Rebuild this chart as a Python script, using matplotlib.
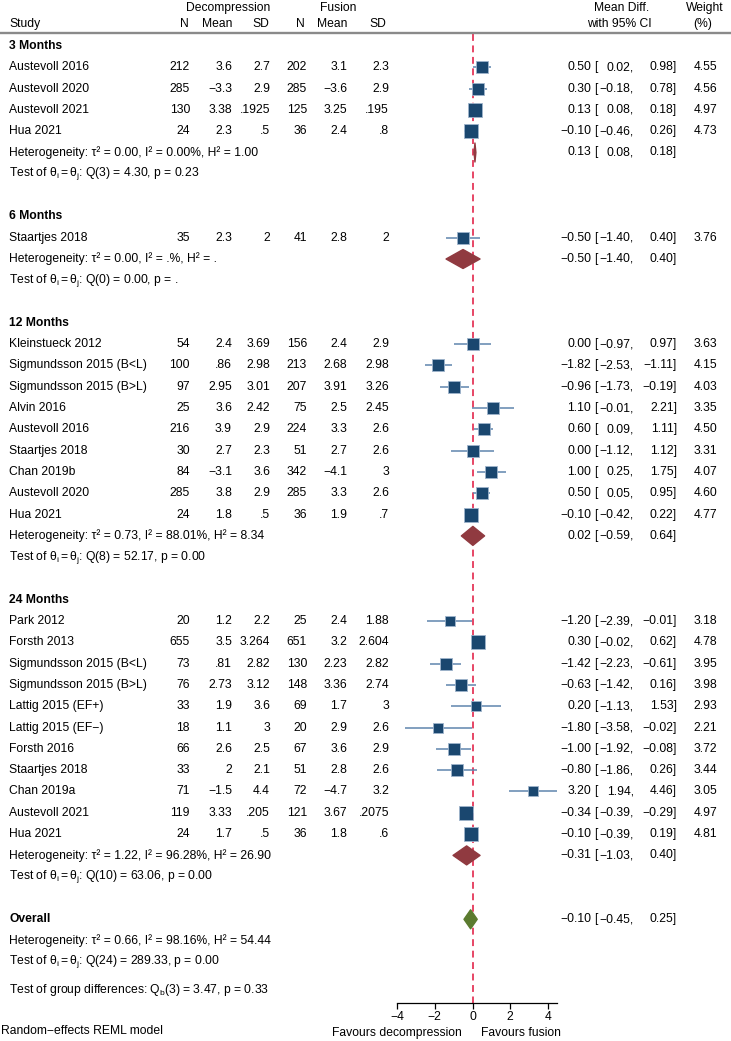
import matplotlib
matplotlib.use("Agg")
import matplotlib.pyplot as plt
from matplotlib.patches import Polygon
from matplotlib.transforms import blended_transform_factory, Affine2D
import numpy as np

plt.rcParams['font.family'] = ['Liberation Sans', 'DejaVu Sans']
plt.rcParams['mathtext.fontset'] = 'custom'
plt.rcParams['mathtext.rm'] = 'Liberation Sans'
plt.rcParams['mathtext.it'] = 'Liberation Sans'
plt.rcParams['mathtext.bf'] = 'Liberation Sans:bold'

M = "\u2212"

# ---------------- data ----------------
groups = ["3 Months", "6 Months", "12 Months", "24 Months"]

studies = [
    ["Austevoll 2016", "Austevoll 2020", "Austevoll 2021", "Hua 2021"],
    ["Staartjes 2018"],
    ["Kleinstueck 2012", "Sigmundsson 2015 (B<L)", "Sigmundsson 2015 (B>L)", "Alvin 2016",
     "Austevoll 2016", "Staartjes 2018", "Chan 2019b", "Austevoll 2020", "Hua 2021"],
    ["Park 2012", "Forsth 2013", "Sigmundsson 2015 (B<L)", "Sigmundsson 2015 (B>L)",
     "Lattig 2015 (EF+)", "Lattig 2015 (EF" + M + ")", "Forsth 2016", "Staartjes 2018",
     "Chan 2019a", "Austevoll 2021", "Hua 2021"],
]

dec_n = [["212", "285", "130", "24"], ["35"],
         ["54", "100", "97", "25", "216", "30", "84", "285", "24"],
         ["20", "655", "73", "76", "33", "18", "66", "33", "71", "119", "24"]]
dec_mean = [["3.6", M + "3.3", "3.38", "2.3"], ["2.3"],
            ["2.4", ".86", "2.95", "3.6", "3.9", "2.7", M + "3.1", "3.8", "1.8"],
            ["1.2", "3.5", ".81", "2.73", "1.9", "1.1", "2.6", "2", M + "1.5", "3.33", "1.7"]]
dec_sd = [["2.7", "2.9", ".1925", ".5"], ["2"],
          ["3.69", "2.98", "3.01", "2.42", "2.9", "2.3", "3.6", "2.9", ".5"],
          ["2.2", "3.264", "2.82", "3.12", "3.6", "3", "2.5", "2.1", "4.4", ".205", ".5"]]
fus_n = [["202", "285", "125", "36"], ["41"],
         ["156", "213", "207", "75", "224", "51", "342", "285", "36"],
         ["25", "651", "130", "148", "69", "20", "67", "51", "72", "121", "36"]]
fus_mean = [["3.1", M + "3.6", "3.25", "2.4"], ["2.8"],
            ["2.4", "2.68", "3.91", "2.5", "3.3", "2.7", M + "4.1", "3.3", "1.9"],
            ["2.4", "3.2", "2.23", "3.36", "1.7", "2.9", "3.6", "2.8", M + "4.7", "3.67", "1.8"]]
fus_sd = [["2.3", "2.9", ".195", ".8"], ["2"],
          ["2.9", "2.98", "3.26", "2.45", "2.6", "2.6", "3", "2.6", ".7"],
          ["1.88", "2.604", "2.82", "2.74", "3", "2.6", "2.9", "2.6", "3.2", ".2075", ".6"]]

md = [[0.50, 0.30, 0.13, -0.10], [-0.50],
      [0.00, -1.82, -0.96, 1.10, 0.60, 0.00, 1.00, 0.50, -0.10],
      [-1.20, 0.30, -1.42, -0.63, 0.20, -1.80, -1.00, -0.80, 3.20, -0.34, -0.10]]
ci_lo = [[0.02, -0.18, 0.08, -0.46], [-1.40],
         [-0.97, -2.53, -1.73, -0.01, 0.09, -1.12, 0.25, 0.05, -0.42],
         [-2.39, -0.02, -2.23, -1.42, -1.13, -3.58, -1.92, -1.86, 1.94, -0.39, -0.39]]
ci_hi = [[0.98, 0.78, 0.18, 0.26], [0.40],
         [0.97, -1.11, -0.19, 2.21, 1.11, 1.12, 1.75, 0.95, 0.22],
         [-0.01, 0.62, -0.61, 0.16, 1.53, -0.02, -0.08, 0.26, 4.46, -0.29, 0.19]]
weights = [[4.55, 4.56, 4.97, 4.73], [3.76],
           [3.63, 4.15, 4.03, 3.35, 4.50, 3.31, 4.07, 4.60, 4.77],
           [3.18, 4.78, 3.95, 3.98, 2.93, 2.21, 3.72, 3.44, 3.05, 4.97, 4.81]]

sub_md = [0.13, -0.50, 0.02, -0.31]
sub_lo = [0.08, -1.40, -0.59, -1.03]
sub_hi = [0.18, 0.40, 0.64, 0.40]
sub_het = [("0.00", "0.00%", "1.00"), ("0.00", ".%", "."),
           ("0.73", "88.01%", "8.34"), ("1.22", "96.28%", "26.90")]
sub_q = [("3", "4.30", "0.23"), ("0", "0.00", "."), ("8", "52.17", "0.00"), ("10", "63.06", "0.00")]

overall_md, overall_lo, overall_hi = -0.10, -0.45, 0.25
overall_het = ("0.66", "98.16%", "54.44")
overall_q = ("24", "289.33", "0.00")
group_diff = ("3", "3.47", "0.33")

xticks = [-4, -2, 0, 2, 4]
axis_max = 4.46

# ---------------- layout ----------------
W, H = 731, 1041
fig = plt.figure(figsize=(W / 100, H / 100), dpi=100)
ax = fig.add_axes([0, 0, 1, 1])
X0, PXU = 472.5, 18.9    # pixel of 0, pixels per unit
Y0, PXR = 46.0, 21.3     # pixel of first row, pixels per row
ax.set_xlim((0 - X0) / PXU, (W - X0) / PXU)
ax.set_ylim((H - Y0) / PXR, (0 - Y0) / PXR)
for s in ["top", "left", "right"]:
    ax.spines[s].set_visible(False)
ax.set_yticks([])


def prow(py):
    return (py - Y0) / PXR


xpx = Affine2D().scale(1 / W, 1) + fig.transFigure
tr = blended_transform_factory(xpx, ax.transData)

FS = 8.7
BLACK = "#000000"
SQ_FACE = "#1a476f"
SQ_EDGE = "#9fb4cc"
CI_COL = "#5f85ad"
RED_D = "#903a40"
GRN_D = "#5b7b2f"
REFCOL = "#e0143c"


def txt(x, r, s, ha="left", **kw):
    ax.text(x, r, s, transform=tr, ha=ha, va="center", fontsize=FS, color=BLACK, **kw)


def fmt(v):
    s = "%.2f" % v
    return s.replace("-", M)


def ci_text(r, est, lo, hi):
    txt(591, r, fmt(est), ha="right")
    txt(594, r, "[", ha="left")
    txt(634, r, fmt(lo) + ",", ha="right")
    txt(677, r, fmt(hi) + "]", ha="right")


def diamond(r, est, lo, hi, col):
    h = 9.5 / PXR
    poly = Polygon([(lo, r), (est, r - h), (hi, r), (est, r + h)], closed=True,
                   facecolor=col, edgecolor=col, lw=1.0, zorder=4, joinstyle="round")
    ax.add_patch(poly)


def het_text(r, vals):
    txt(9, r, "Heterogeneity: \u03c4\u00b2 = %s, I\u00b2 = %s, H\u00b2 = %s" % vals)


# headers
txt(228, prow(8), "Decompression", ha="center")
txt(338, prow(8), "Fusion", ha="center")
txt(622, prow(8), "Mean Diff.", ha="center")
txt(705, prow(8), "Weight", ha="center")
r_h2 = prow(24)
txt(9, r_h2, "Study")
for xh, lab in zip([189, 232, 269, 305, 347, 386], ["N", "Mean", "SD", "N", "Mean", "SD"]):
    txt(xh, r_h2, lab, ha="right")
txt(619, r_h2, "with 95% CI", ha="center")
txt(703, r_h2, "(%)", ha="center")
ax.plot([(0 - X0) / PXU, (W - X0) / PXU], [prow(33.5)] * 2, color="#8a8a8a", lw=1.7,
        solid_capstyle="butt", zorder=2)

cols_x = [190, 232, 270, 307, 347, 389]
r = 0
for g in range(len(groups)):
    txt(9, r, groups[g], fontweight="bold")
    r += 1
    for i in range(len(studies[g])):
        txt(9, r, studies[g][i])
        vals = [dec_n[g][i], dec_mean[g][i], dec_sd[g][i], fus_n[g][i], fus_mean[g][i], fus_sd[g][i]]
        for xc, v in zip(cols_x, vals):
            txt(xc, r, v, ha="right")
        ci_text(r, md[g][i], ci_lo[g][i], ci_hi[g][i])
        txt(717, r, "%.2f" % weights[g][i], ha="right")
        ax.plot([ci_lo[g][i], ci_hi[g][i]], [r, r], color=CI_COL, lw=1.1, zorder=3,
                solid_capstyle="butt")
        side_pt = 13.5 * np.sqrt(weights[g][i] / 4.97) * 0.72
        ax.scatter([md[g][i]], [r], s=side_pt ** 2, marker="s", color=SQ_FACE,
                   edgecolors=SQ_EDGE, linewidths=0.6, zorder=5)
        r += 1
    het_text(r, sub_het[g])
    diamond(r, sub_md[g], sub_lo[g], sub_hi[g], RED_D)
    ci_text(r, sub_md[g], sub_lo[g], sub_hi[g])
    r += 1
    q = sub_q[g]
    txt(9, r, r"Test of $\theta_i = \theta_j$: Q(%s) = %s, p = %s" % q)
    r += 2

txt(9, r, "Overall", fontweight="bold")
diamond(r, overall_md, overall_lo, overall_hi, GRN_D)
ci_text(r, overall_md, overall_lo, overall_hi)
r += 1
het_text(r, overall_het)
r += 1
txt(9, r, r"Test of $\theta_i = \theta_j$: Q(%s) = %s, p = %s" % overall_q)
r += 1.3
txt(9, r, r"Test of group differences: $Q_b$(%s) = %s, p = %s" % group_diff)

# reference line
r_axis = prow(1003)
ax.plot([0, 0], [prow(34), r_axis], color=REFCOL, lw=1.1, dashes=(4.5, 3.0), zorder=1)

# x axis
ax.spines["bottom"].set_position(("data", r_axis))
ax.spines["bottom"].set_bounds(xticks[0], axis_max)
ax.spines["bottom"].set_linewidth(0.9)
ax.set_xticks(xticks)
ax.tick_params(axis="x", direction="out", length=4, width=0.9, pad=1.5, labelsize=FS)

txt(462, prow(1033), "Favours decompression", ha="right")
txt(481, prow(1033), "Favours fusion", ha="left")
txt(1, prow(1031), "Random" + M + "effects REML model", ha="left")

fig.savefig("out.png", dpi=100)
